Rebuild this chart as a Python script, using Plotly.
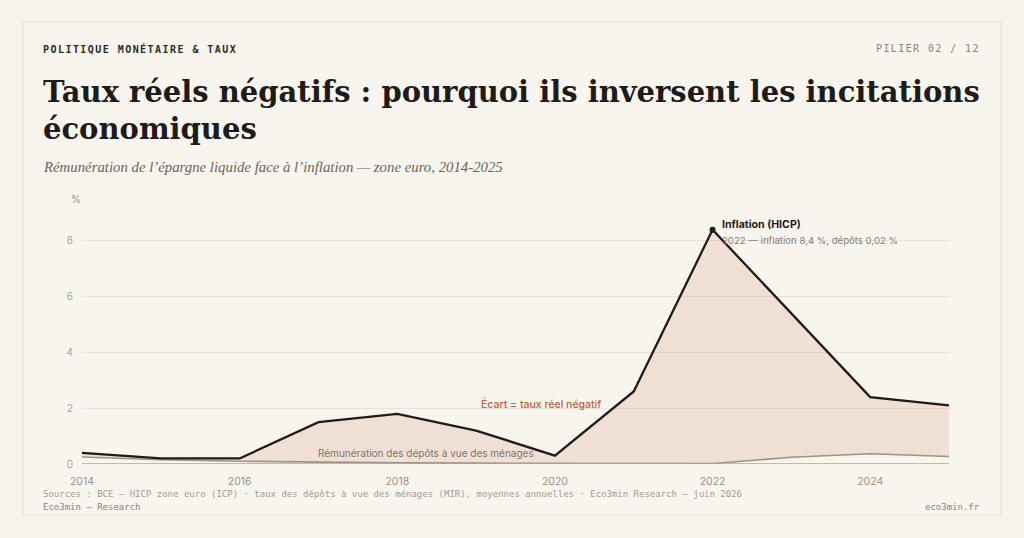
import plotly.graph_objects as go

years = [2014, 2015, 2016, 2017, 2018, 2019, 2020, 2021, 2022, 2023, 2024, 2025]
inflation = [0.4, 0.2, 0.2, 1.5, 1.8, 1.2, 0.3, 2.6, 8.4, 5.4, 2.4, 2.1]
deposits = [0.25, 0.15, 0.1, 0.06, 0.04, 0.03, 0.02, 0.01, 0.02, 0.24, 0.37, 0.27]
x_ticks = [2014, 2016, 2018, 2020, 2022, 2024]
y_ticks = [0, 2, 4, 6, 8]

W, H = 1024, 538
ML, MR, MT, MB = 82, 75, 213, 74
PW, PH = W - ML - MR, H - MT - MB


def px(x):
    return (x - ML) / PW


def py(y):
    return (H - MB - y) / PH


BG = "#f6f3ed"
CARD = "#f8f5ef"
INK = "#1e1b18"
GREY = "#9a9285"
RUST = "#c0603f"

fig = go.Figure()
fig.add_trace(go.Scatter(
    x=years, y=deposits, mode="lines",
    line=dict(color="#9b9488", width=1.6),
    hoverinfo="skip", showlegend=False,
))
fig.add_trace(go.Scatter(
    x=years, y=inflation, mode="lines", fill="tonexty",
    fillcolor="rgba(192,98,60,0.15)",
    line=dict(color=INK, width=2.3),
    hoverinfo="skip", showlegend=False,
))
fig.add_trace(go.Scatter(
    x=[years[8]], y=[inflation[8]], mode="markers",
    marker=dict(color=INK, size=6),
    hoverinfo="skip", showlegend=False,
))

shapes = [
    dict(type="rect", xref="paper", yref="paper",
         x0=px(23), x1=px(1001), y0=py(515), y1=py(22),
         fillcolor=CARD, line=dict(color="#e5ded1", width=1), layer="below"),
    dict(type="line", xref="x domain", yref="y", x0=0, x1=1, y0=0, y1=0,
         line=dict(color="#aea697", width=1.5), layer="above"),
]

mono = "DejaVu Sans Mono"
serif = "DejaVu Serif"
serif_it = "Liberation Serif"
sans = "Inter"

annotations = [
    dict(xref="paper", yref="paper", x=px(41), y=py(49), xanchor="left", yanchor="middle",
         text='<span style="letter-spacing:1.45px">POLITIQUE MONÉTAIRE &amp; TAUX</span>',
         font=dict(family=mono, size=10, color="#2e2a26", weight="bold"), showarrow=False),
    dict(xref="paper", yref="paper", x=px(982), y=py(49), xanchor="right", yanchor="middle",
         text='<span style="letter-spacing:1.4px">PILIER 02 / 12</span>',
         font=dict(family=mono, size=10, color="#8a8378"), showarrow=False),
    dict(xref="paper", yref="paper", x=px(41), y=py(92), xanchor="left", yanchor="middle",
         text="Taux réels négatifs : pourquoi ils inversent les incitations",
         font=dict(family=serif, size=29, color=INK, weight="bold"), showarrow=False),
    dict(xref="paper", yref="paper", x=px(41), y=py(129), xanchor="left", yanchor="middle",
         text="économiques",
         font=dict(family=serif, size=29, color=INK, weight="bold"), showarrow=False),
    dict(xref="paper", yref="paper", x=px(41), y=py(167), xanchor="left", yanchor="middle",
         text="<i>Rémunération de l’épargne liquide face à l’inflation — zone euro, 2014-2025</i>",
         font=dict(family=serif_it, size=14.8, color="#6b6358"), showarrow=False),
    dict(xref="paper", yref="paper", x=px(76), y=py(199), xanchor="center", yanchor="middle",
         text="%", font=dict(family=sans, size=10, color=GREY), showarrow=False),
    dict(xref="x", yref="y", x=2022, y=8.4, xanchor="left", yanchor="middle",
         xshift=7, yshift=5, text="<b>Inflation (HICP)</b>",
         font=dict(family=sans, size=10.6, color=INK), showarrow=False),
    dict(xref="x", yref="y", x=2022, y=8.4, xanchor="left", yanchor="middle",
         xshift=7, yshift=-11, text="2022 — inflation 8,4 %, dépôts 0,02 %",
         font=dict(family=sans, size=9.6, color="#857e73"), showarrow=False),
    dict(xref="x", yref="y", x=2019.82, y=2.15, xanchor="center", yanchor="middle",
         text="Écart = taux réel négatif",
         font=dict(family=sans, size=10.5, color=RUST, weight=500), showarrow=False),
    dict(xref="x", yref="y", x=2018.37, y=0.39, xanchor="center", yanchor="middle",
         text="Rémunération des dépôts à vue des ménages",
         font=dict(family=sans, size=10, color="#7d766b"), showarrow=False),
    dict(xref="paper", yref="paper", x=px(41), y=py(494), xanchor="left", yanchor="middle",
         text="Sources : BCE — HICP zone euro (ICP) · taux des dépôts à vue des ménages (MIR), moyennes annuelles · Eco3min Research — juin 2026",
         font=dict(family=mono, size=9, color="#a39b8e"), showarrow=False),
    dict(xref="paper", yref="paper", x=px(41), y=py(507), xanchor="left", yanchor="middle",
         text="Eco3min — Research",
         font=dict(family=mono, size=9, color="#8a8378"), showarrow=False),
    dict(xref="paper", yref="paper", x=px(982), y=py(507), xanchor="right", yanchor="middle",
         text="eco3min.fr",
         font=dict(family=mono, size=9, color="#8a8378"), showarrow=False),
]

fig.update_layout(
    width=W, height=H,
    margin=dict(l=ML, r=MR, t=MT, b=MB, pad=0),
    paper_bgcolor=BG, plot_bgcolor="rgba(0,0,0,0)",
    shapes=shapes, annotations=annotations,
    font=dict(family=sans, size=10, color=GREY),
    xaxis=dict(range=[2014, 2025], tickvals=x_ticks, ticktext=[str(v) for v in x_ticks],
               showgrid=False, zeroline=False, showline=False, ticks="",
               ticklabelstandoff=9,
               tickfont=dict(family=sans, size=10.5, color=GREY)),
    yaxis=dict(range=[0, 9], tickvals=y_ticks, ticktext=[str(v) for v in y_ticks],
               showgrid=True, gridcolor="#e9e3d9", gridwidth=1, zeroline=False,
               showline=False, ticks="", ticklabelstandoff=8,
               tickfont=dict(family=sans, size=10, color="#aaa295")),
)

fig.write_html("out.html", config=dict(displayModeBar=False),
               post_script="document.body.style.margin='0';document.body.style.background='%s';" % BG)
